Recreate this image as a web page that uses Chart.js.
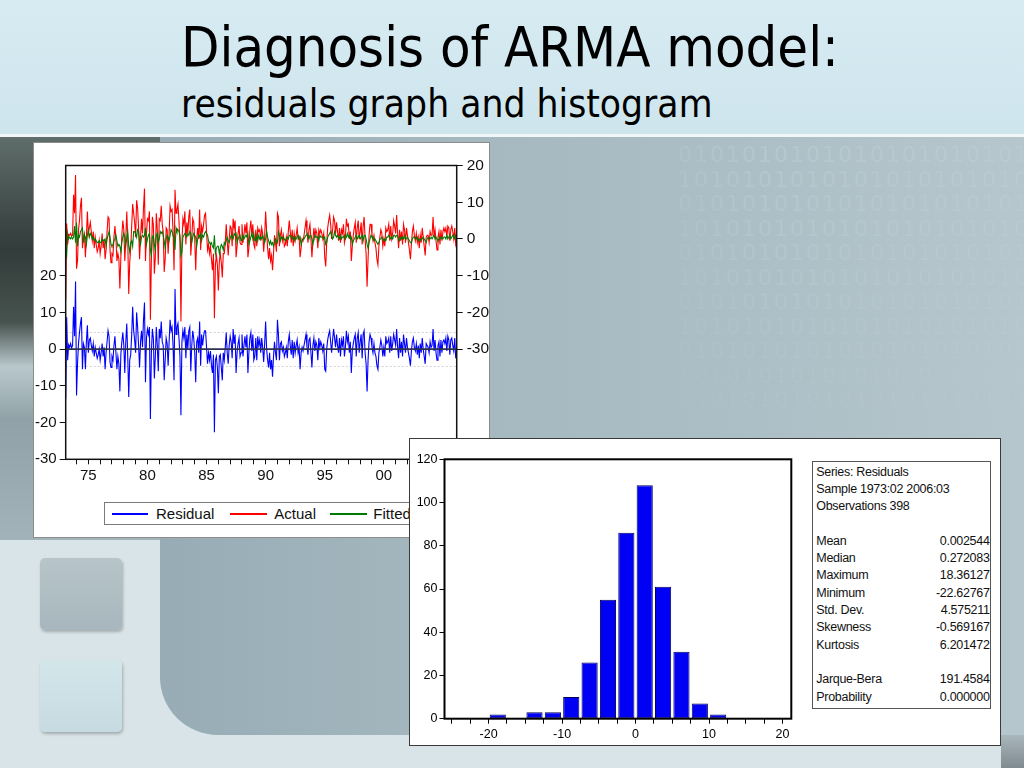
<!DOCTYPE html>
<html>
<head>
<meta charset="utf-8">
<title>Diagnosis of ARMA model</title>
<script src="https://cdn.jsdelivr.net/npm/chart.js@4.4.1/dist/chart.umd.min.js"></script>
<style>
  html, body { margin:0; padding:0; }
  body { width:1024px; height:768px; overflow:hidden; position:relative; background:#d9e4e8; font-family:"Liberation Sans", Arial, sans-serif; }
  .abs { position:absolute; }
  #band { left:0; top:0; width:1024px; height:134px; background:linear-gradient(180deg,#d6ebf2 0%,#cfe5ed 100%); }
  #bandline { left:0; top:134px; width:1024px; height:3px; background:#f1f7f9; }
  #main { left:160px; top:137px; width:864px; height:598px; border-bottom-left-radius:58px;
          background:linear-gradient(90deg,#97acb5 0%,#a5b8c0 35%,#adbfc6 70%,#b6c6cd 100%); }
  #leftdark { left:0; top:137px; width:170px; height:403px;
          background:linear-gradient(180deg,#5f6d6b 0%,#323c3a 28%,#47534f 46%,#b9c8cc 57%,#90a2a7 70%,#a2b4ba 100%); }
  #corner { left:1001px; top:735px; width:23px; height:33px; background:linear-gradient(180deg,#a9b6bb,#7f8b90); }
  #bits { left:560px; top:138px; width:464px; height:300px; overflow:hidden;
          -webkit-mask-image:linear-gradient(90deg, transparent 0%, #000 45%, #000 100%);
          mask-image:linear-gradient(90deg, transparent 0%, #000 45%, #000 100%); }
  #bits div { position:absolute; right:-6px; font-family:"DejaVu Sans", sans-serif; font-size:22px; letter-spacing:2px; white-space:nowrap; color:#c3d1d7; }
  .sq { position:absolute; left:40px; width:82px; height:72px; border-radius:5px; box-shadow:1px 2px 3px rgba(0,0,0,0.25); }
  #sq1 { top:558px; background:linear-gradient(180deg,#b7c5ca,#a8b7bd); }
  #sq2 { top:660px; background:linear-gradient(180deg,#d3e6ea,#c6dbe1); }
  #title { left:181px; top:19px; font-family:"DejaVu Sans", sans-serif; font-stretch:condensed; font-size:55.6px; line-height:55.6px; color:#000; white-space:nowrap; }
  #subtitle { left:181px; top:85px; font-family:"DejaVu Sans", sans-serif; font-stretch:condensed; font-size:38.6px; line-height:38.6px; color:#000; white-space:nowrap; }
  #lpanel { left:33px; top:142px; width:457px; height:396px; box-sizing:border-box; border:1px solid #8c8c8c; background:#fff; overflow:hidden; z-index:2; }
  #lc { position:absolute; left:0; top:0; }
  #legend { left:70px; top:359px; width:366px; height:23px; box-sizing:border-box; border:1px solid #7a7a7a; background:#fff; z-index:5; }
  .lgl { position:absolute; top:9.5px; height:2px; border:0; }
  .lgt { position:absolute; top:0; line-height:21px; font-size:15px; color:#111; white-space:nowrap; }
  #lgl0 { background-color:rgb(0,0,255); }
  #lgl1 { background-color:rgb(255,0,0); }
  #lgl2 { background-color:rgb(0,140,0); }
  #hpanel { left:409px; top:438px; width:592px; height:308px; box-sizing:border-box; border:1px solid #3a3a3a; background:#fff; z-index:3; overflow:hidden; }
  #hc { position:absolute; left:0; top:0; }
  #stats { left:402.3px; top:22px; width:178.3px; height:248px; box-sizing:border-box; border:1px solid #555; padding:1.65px 0 0 3px; overflow:hidden; }
  .srow { height:17.3px; line-height:17.3px; display:flex; justify-content:space-between; font-size:12.5px; letter-spacing:-0.3px; color:#111; white-space:nowrap; }
</style>
</head>
<body>
<div id="band" class="abs"></div>
<div id="bandline" class="abs"></div>
<div id="leftdark" class="abs"></div>
<div id="main" class="abs"></div>
<div id="corner" class="abs"></div>
<div id="bits" class="abs"></div>
<div id="sq1" class="sq"></div>
<div id="sq2" class="sq"></div>
<div id="title" class="abs">Diagnosis of ARMA model:</div>
<div id="subtitle" class="abs">residuals graph and histogram</div>

<div id="lpanel" class="abs">
  <canvas id="lc" width="455" height="394"></canvas>
  <div id="legend" class="abs">
    <div id="lgl0" class="lgl" style="left:6.7px;width:36.6px"></div>
    <div id="lgt0" class="lgt" style="left:51px"></div>
    <div id="lgl1" class="lgl" style="left:125px;width:37.3px"></div>
    <div id="lgt1" class="lgt" style="left:169.3px"></div>
    <div id="lgl2" class="lgl" style="left:225px;width:36.7px"></div>
    <div id="lgt2" class="lgt" style="left:268.3px"></div>
  </div>
</div>

<div id="hpanel" class="abs">
  <canvas id="hc" width="400" height="306"></canvas>
  <div id="stats" class="abs"></div>
</div>

<script>
// ---------------- DATA ----------------
// Monthly residuals, 1973:02 - 2006:03 (398 obs) (left axis)
const residual = [
  -13.5, 8.7, -3.0, 1.2, 0.5, 1.5, 0.3, 1.0, 11.5, 3.5, 18.4, -12.6,
  -4.0, 1.5, 4.5, 7.0, 8.7, -5.5, 1.5, 0.5, -5.5, 2.0, 6.5, -1.0,
  2.5, 3.0, 1.0, -0.5, 1.5, -2.0, 0.5, -1.0, -2.5, -1.5, 0.0, -3.0,
  -1.0, 1.5, -2.0, 0.5, -5.5, -1.0, 2.0, 5.0, 3.5, -3.5, -5.0, -2.0,
  -3.0, 1.0, 3.5, -1.0, -5.5, -2.0, -4.0, -11.5, -1.5, 2.0, 4.5, 1.0,
  -6.5, 2.0, 7.0, -2.0, -13.0, -3.0, -1.5, 4.0, 11.5, 5.0, 2.5, -1.0,
  10.0, 6.0, 1.0, -5.0, 2.0, 5.0, 0.5, 8.0, 12.7, -9.0, 3.0, 5.5,
  4.0, 6.0, -19.0, -1.0, 5.5, 3.0, -8.0, -2.0, 6.0, 1.0, -6.0, 5.5,
  3.0, 7.5, 2.0, 1.0, -8.5, -3.0, 3.0, 1.5, -4.5, 2.0, 8.0, 5.0,
  6.0, 1.0, -8.5, 16.4, 4.0, 6.0, 7.0, 3.0, -2.0, -18.0, 2.0, 5.0,
  3.0, 6.0, -2.5, 4.0, 0.0, 5.0, 6.0, -6.0, 1.0, 5.0, 3.0, -1.0,
  -9.0, 2.0, 3.0, -1.0, 7.5, -4.5, 4.0, 1.0, 3.5, 5.0, 5.0, 0.5,
  -4.0, -1.0, -3.0, -0.5, -4.5, -6.5, -1.5, -22.6, -3.0, -2.0, -5.0, -12.0,
  -2.0, -1.5, -5.0, -8.5, -1.0, -3.0, 0.5, 4.5, -1.0, -4.0, 1.0, 3.5,
  2.0, -2.5, 5.5, 1.5, 4.0, -6.5, -1.0, 1.5, 3.0, -2.0, -1.0, 4.0,
  -2.0, 1.0, 3.5, 0.5, 4.0, -6.5, -1.0, 3.0, 4.5, -0.5, 4.0, -3.0,
  -2.0, 3.0, -3.0, 3.5, 1.0, 2.5, -1.0, 3.0, 0.5, -3.5, 1.5, 7.5,
  0.0, -3.0, -5.0, -1.0, -5.5, -3.0, -7.5, -2.0, 2.0, -1.0, -3.0, 8.0,
  4.0, -3.0, 1.5, 2.0, -0.5, 0.5, -2.0, -1.0, 0.5, -2.5, 2.0, 4.0,
  1.0, -1.5, 2.5, -2.5, 2.0, -1.0, 1.0, 2.5, -1.0, 0.5, -5.5, -1.0,
  0.5, -0.5, 1.0, 2.5, 4.0, 0.5, -1.5, 2.5, 3.0, -1.0, -5.0, 1.0,
  3.0, -0.5, 2.0, 1.0, -3.0, 3.0, 0.5, 2.0, 1.0, -0.5, 1.5, -5.5,
  -6.0, 0.0, 2.5, 4.0, 5.0, 2.0, -1.0, 2.5, 5.5, 3.0, 0.5, 4.0,
  1.0, -1.0, 3.0, -2.0, 2.5, 1.0, 3.5, -2.0, 0.5, 5.0, 2.0, 3.5,
  -1.0, 2.0, -6.5, -0.5, 1.5, 3.0, 4.0, -2.0, 3.0, 4.5, -1.0, 2.0,
  4.0, -2.5, 4.0, 5.0, -1.0, -4.0, -11.5, -3.0, 2.0, 4.0, 3.0, 0.5,
  -1.0, 1.5, -1.0, -2.0, -4.5, -5.5, -1.0, 0.5, 2.5, 1.0, -2.0, 0.5,
  -2.0, 3.5, 1.5, 2.0, 3.0, -1.0, 3.5, -0.5, 1.5, 4.0, 2.5, 1.0,
  5.5, 0.5, -2.5, 3.0, -1.0, 2.0, -2.0, 4.0, 1.5, -1.0, 3.0, 0.5,
  -1.0, -2.5, -4.5, -0.5, 2.0, 3.0, 0.5, -0.5, 1.5, -1.5, 1.0, -2.5,
  1.5, -1.0, 3.0, 0.0, -2.0, -4.0, 1.5, 1.0, 0.5, -1.0, 2.0, 0.5,
  1.0, 5.5, -0.5, 2.5, -1.0, -3.0, 1.0, 2.0, -2.0, 2.5, -1.0, 2.0,
  2.5, 1.5, 3.0, -0.5, 3.5, 2.5, -1.5, 2.5, 3.0, 1.0, -0.5, 3.0, -2.5, -0.5
];
// Fitted values (right axis)
const fitted = [
  -3.0, -4.5, 1.5, 0.0, 0.5, 0.0, 0.5, 0.0, 0.5, 3.5, -1.0, 4.5,
  -2.0, 1.0, 0.5, 2.0, 2.5, 3.0, -1.0, 1.0, 0.5, -1.5, 1.0, 2.5,
  0.5, 1.5, 1.0, 0.0, 0.5, -0.5, 0.0, -0.5, -1.0, -1.0, -0.5, -1.0,
  -1.0, 0.0, -0.5, -0.5, 0.0, -2.0, 0.0, 1.0, 2.0, 0.5, -1.5, -2.0,
  -1.5, -0.5, 0.0, 1.0, -0.5, -2.0, -1.5, -2.0, -3.5, -1.0, 0.5, 1.5,
  0.5, -2.0, 0.5, 2.0, -2.0, -3.5, -1.0, -0.5, -2.0, 2.0, 2.0, 1.5,
  0.5, 2.5, 2.0, -0.5, -1.5, 0.5, 1.0, 0.5, 1.0, 3.0, -1.5, 0.0,
  1.0, 1.5, -3.0, -4.5, 0.5, 1.0, -1.5, -3.0, 1.0, 1.5, -1.0, 0.0,
  2.0, 1.5, 2.0, 1.0, -0.5, -2.5, 0.0, 1.0, 0.5, -0.5, 1.0, 2.5,
  2.0, 1.0, 0.0, -3.0, 3.0, 2.0, 2.5, 2.0, 1.0, -4.5, -3.5, 0.5,
  1.0, 1.5, 1.0, 0.5, 1.5, 1.0, 2.0, 1.5, -1.0, 0.5, 1.5, 1.0,
  0.5, -2.0, 0.0, 1.0, 0.5, 1.5, -0.5, 1.0, 0.5, 1.5, 2.0, 1.5,
  1.0, -0.5, -1.0, -1.5, -1.0, -2.0, -2.5, 1.0, -4.0, -2.5, -2.0, -2.0,
  -4.0, -2.5, -1.5, -2.0, -3.0, -1.0, -1.5, -0.5, 0.5, -0.5, -1.0, 0.0,
  1.0, 0.5, 0.0, 1.5, 1.0, 1.5, -1.0, 0.0, 0.5, 1.0, -0.5, 0.0,
  1.0, 0.0, 0.5, 1.0, 0.5, 1.5, -1.5, -0.5, 0.5, 1.5, 0.0, 1.5,
  -0.5, -0.5, 1.0, -0.5, 1.0, 0.0, 0.5, 0.0, 1.0, 0.0, -1.0, 0.0,
  2.0, 0.5, -0.5, -1.5, -0.5, -1.5, -1.0, -2.0, -1.0, 0.0, -0.5, -1.0,
  2.0, 1.0, -0.5, 0.5, 0.0, 0.5, 0.0, -0.5, 0.0, 0.5, 0.0, 1.0,
  1.0, 0.5, 0.0, 0.5, -0.5, 0.5, 0.0, 0.5, 1.0, 0.0, 0.5, -1.5,
  -0.5, 0.0, 0.0, 0.5, 1.0, 1.5, 0.5, 0.0, 1.0, 1.0, 0.0, -1.5,
  0.0, 1.0, 0.5, 0.5, 0.5, -0.5, 1.0, 0.5, 0.5, 0.5, 0.0, 0.5,
  -1.5, -1.0, 0.5, 1.0, 1.5, 2.0, 1.0, 0.0, 0.5, 2.0, 1.0, 0.5,
  1.0, 0.5, 0.0, 1.0, 0.0, 0.5, 0.5, 1.0, 0.0, 0.5, 1.5, 0.5,
  1.0, 0.0, 0.5, -1.5, -0.5, 0.0, 0.5, 1.0, 0.0, 0.5, 1.0, 0.0,
  0.5, 1.0, -0.5, 1.0, 1.0, 0.0, -1.5, -2.5, -1.0, 0.0, 1.0, 0.5,
  0.5, -0.5, 0.0, -0.5, -1.0, -1.5, -1.0, 0.0, 0.0, 0.5, 0.0, -0.5,
  0.0, -0.5, 0.5, 0.5, 1.0, 0.5, 0.0, 0.5, 0.0, 1.0, 1.0, 0.5,
  1.0, 1.0, 0.0, -0.5, 0.5, 0.0, 0.5, 0.0, 1.0, 0.0, 0.0, 0.5,
  0.0, -0.5, -1.0, -1.0, 0.0, 0.5, 0.5, 0.0, 0.0, 0.5, -0.5, 0.0,
  -0.5, 0.0, 0.0, 0.5, 0.0, -0.5, -1.0, 0.0, 0.5, 0.0, 0.0, 0.5,
  0.0, 0.5, 1.0, 0.0, 0.5, 0.0, -0.5, 0.0, 0.5, 0.0, 0.5, 0.0,
  0.5, 0.5, 0.0, 1.0, 0.0, 0.5, 1.0, 0.0, 0.5, 1.0, 0.5, 0.0, 1.0, 0.0
];
const sampleStartYear = 1973;
const sampleStartMonth = 2;
const leftAxisTicks = [-30, -20, -10, 0, 10, 20];
const rightAxisTicks = [-30, -20, -10, 0, 10, 20];
const seriesNames = ['Residual', 'Actual', 'Fitted'];

// Histogram of residuals
const histBinCenters = [-18.75, -13.75, -11.25, -8.75, -6.25, -3.75, -1.25, 1.25, 3.75, 6.25, 8.75, 11.25];
const histCounts     = [2, 3, 3, 10, 26, 55, 86, 108, 61, 31, 7, 2];
const histXTicks = [-25, -22.5, -20, -17.5, -15, -12.5, -10, -7.5, -5, -2.5, 0, 2.5, 5, 7.5, 10, 12.5, 15, 17.5, 20];
const histXLabels = [-20, -10, 0, 10, 20];
const histYTicks = [0, 20, 40, 60, 80, 100, 120];

// Descriptive statistics
const statHeader = ['Series: Residuals', 'Sample 1973:02 2006:03', 'Observations 398'];
const statNames  = ['Mean', 'Median', 'Maximum', 'Minimum', 'Std. Dev.', 'Skewness', 'Kurtosis'];
const statValues = ['0.002544', '0.272083', '18.36127', '-22.62767', '4.575211', '-0.569167', '6.201472'];
const testNames  = ['Jarque-Bera', 'Probability'];
const testValues = ['191.4584', '0.000000'];

// ---------------- BUILD ----------------
const labels = residual.map((_, i) => {
  const m = sampleStartMonth - 1 + i;
  const y = sampleStartYear + Math.floor(m / 12);
  const mm = (m % 12) + 1;
  return y + ':' + String(mm).padStart(2, '0');
});
const actual = residual.map((r, i) => +(r + fitted[i]).toFixed(2));
const janIdx = labels.map((l, i) => l.endsWith(':01') ? i : -1).filter(i => i >= 0);
const stdDev = parseFloat(statValues[4]);

Chart.defaults.font.family = '"Liberation Sans", Arial, sans-serif';
Chart.defaults.color = '#111';

const tickFont = { family: '"Liberation Sans", Arial, sans-serif', size: 15 };
const seriesColors = ['#0000ff', '#ff0000', '#007a00'];

const lcDecor = {
  id: 'lcDecor',
  beforeDatasetsDraw(chart) {
    const { ctx, chartArea: a, scales } = chart;
    const yl = scales.yL;
    ctx.save();
    ctx.strokeStyle = '#d2d2d2'; ctx.lineWidth = 1; ctx.setLineDash([2, 2]);
    [stdDev, -stdDev].forEach(v => {
      const y = Math.round(yl.getPixelForValue(v)) + 0.5;
      ctx.beginPath(); ctx.moveTo(a.left, y); ctx.lineTo(a.right, y); ctx.stroke();
    });
    ctx.restore();
  },
  afterDatasetsDraw(chart) {
    const { ctx, chartArea: a, scales } = chart;
    const y0 = scales.yL.getPixelForValue(0);
    ctx.save();
    ctx.strokeStyle = '#2c3150'; ctx.lineWidth = 1.6;
    ctx.beginPath(); ctx.moveTo(a.left, y0); ctx.lineTo(a.right, y0); ctx.stroke();
    ctx.strokeStyle = '#111'; ctx.lineWidth = 1.5;
    ctx.strokeRect(a.left, a.top, a.right - a.left, a.bottom - a.top);
    ctx.restore();
  }
};

new Chart(document.getElementById('lc'), {
  type: 'line',
  data: {
    labels: labels,
    datasets: [
      { label: seriesNames[0], data: residual, yAxisID: 'yL', borderColor: seriesColors[0], borderWidth: 1.1, pointRadius: 0, tension: 0, order: 3 },
      { label: seriesNames[1], data: actual, yAxisID: 'yR', borderColor: seriesColors[1], borderWidth: 1.1, pointRadius: 0, tension: 0, order: 2 },
      { label: seriesNames[2], data: fitted, yAxisID: 'yR', borderColor: seriesColors[2], borderWidth: 1.1, pointRadius: 0, tension: 0, order: 1 }
    ]
  },
  options: {
    responsive: false, animation: false,
    layout: { padding: { top: 22.5, left: 0, right: 0, bottom: 0 } },
    plugins: { legend: { display: false }, tooltip: { enabled: false } },
    scales: {
      x: {
        type: 'category', offset: false,
        afterBuildTicks: s => { s.ticks = janIdx.map(v => ({ value: v })); },
        afterFit: s => { s.height = 77.7; },
        grid: { drawOnChartArea: false, drawTicks: true, tickLength: 5, color: '#111', lineWidth: 1, offset: false },
        border: { display: false },
        ticks: {
          autoSkip: false, maxRotation: 0, minRotation: 0, padding: 3, font: tickFont, color: '#111',
          callback: v => { const l = labels[v]; const y = parseInt(l.slice(0, 4), 10); return (y % 5 === 0) ? l.slice(2, 4) : ''; }
        }
      },
      yL: {
        position: 'left', min: -30, max: 50,
        afterBuildTicks: s => { s.ticks = leftAxisTicks.map(v => ({ value: v })); },
        afterFit: s => { s.width = 31.7; },
        grid: { drawOnChartArea: false, drawTicks: true, tickLength: 6, color: '#111' },
        border: { display: false },
        ticks: { padding: 3, font: tickFont, color: '#111' }
      },
      yR: {
        position: 'right', min: -60, max: 20,
        afterBuildTicks: s => { s.ticks = rightAxisTicks.map(v => ({ value: v })); },
        afterFit: s => { s.width = 32.3; },
        grid: { drawOnChartArea: false, drawTicks: true, tickLength: 6, color: '#111' },
        border: { display: false },
        ticks: { padding: 4, font: { family: '"Liberation Sans", Arial, sans-serif', size: 15.5 }, color: '#111' }
      }
    }
  },
  plugins: [lcDecor]
});

// legend text (HTML)
seriesNames.forEach((n, i) => {
  document.getElementById('lgt' + i).textContent = n;
  document.getElementById('lgl' + i).style.backgroundColor = seriesColors[i];
});

// histogram
const hFont = { family: '"Liberation Sans", Arial, sans-serif', size: 12.5 };
const hcFrame = {
  id: 'hcFrame',
  afterDraw(chart) {
    const { ctx, chartArea: a } = chart;
    ctx.save(); ctx.strokeStyle = '#000'; ctx.lineWidth = 2;
    ctx.strokeRect(a.left, a.top, a.right - a.left, a.bottom - a.top);
    ctx.restore();
  }
};
new Chart(document.getElementById('hc'), {
  type: 'bar',
  data: {
    datasets: [{
      data: histBinCenters.map((c, i) => ({ x: c, y: histCounts[i] })),
      backgroundColor: '#0000f5', borderColor: '#00005a', borderWidth: 1, borderSkipped: false,
      barPercentage: 0.88, categoryPercentage: 1.0
    }]
  },
  options: {
    responsive: false, animation: false,
    layout: { padding: { top: 20.3, left: 0, right: 18.7, bottom: 0 } },
    plugins: { legend: { display: false }, tooltip: { enabled: false } },
    scales: {
      x: {
        type: 'linear', min: -26, max: 21.2, offset: false,
        afterBuildTicks: s => { s.ticks = histXTicks.map(v => ({ value: v })); },
        afterFit: s => { s.height = 26.3; },
        grid: { drawOnChartArea: false, drawTicks: true, tickLength: 5, color: '#000', offset: false },
        border: { display: false },
        ticks: { autoSkip: false, maxRotation: 0, padding: 3, font: hFont, color: '#000',
                 callback: v => histXLabels.includes(v) ? String(v) : '' }
      },
      y: {
        min: 0, max: 120,
        afterBuildTicks: s => { s.ticks = histYTicks.map(v => ({ value: v })); },
        afterFit: s => { s.width = 34.5; },
        grid: { drawOnChartArea: false, drawTicks: true, tickLength: 5, color: '#000' },
        border: { display: false },
        ticks: { padding: 2, font: hFont, color: '#000' }
      }
    }
  },
  plugins: [hcFrame]
});

// stats box
const st = document.getElementById('stats');
function addRow(a, b) {
  const r = document.createElement('div'); r.className = 'srow';
  const s1 = document.createElement('span'); s1.textContent = a; r.appendChild(s1);
  if (b !== undefined) { const s2 = document.createElement('span'); s2.textContent = b; r.appendChild(s2); }
  st.appendChild(r);
}
statHeader.forEach(h => addRow(h));
addRow('\u00a0');
statNames.forEach((n, i) => addRow(n, statValues[i]));
addRow('\u00a0');
testNames.forEach((n, i) => addRow(n, testValues[i]));

// decorative binary pattern
const bits = document.getElementById('bits');
for (let r = 0; r < 11; r++) {
  const d = document.createElement('div');
  d.textContent = (r % 2 ? '1010101010101010101010' : '0101010101010101010101');
  d.style.top = (4 + r * 24.5) + 'px';
  d.style.opacity = (0.42 - r * 0.03).toFixed(2);
  bits.appendChild(d);
}
</script>
</body>
</html>
